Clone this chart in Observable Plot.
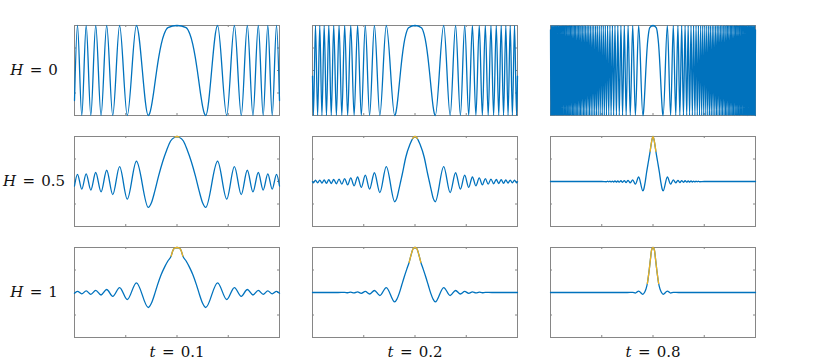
<!DOCTYPE html>
<html>
<head>
<meta charset="utf-8">
<script src="https://cdn.jsdelivr.net/npm/d3@7"></script>
<script src="https://cdn.jsdelivr.net/npm/@observablehq/plot@0.6"></script>
<style>
  html, body { margin: 0; padding: 0; background: #fff; }
  .mathlabel, .mathlabel tspan { font-family: "DejaVu Serif", serif !important; }
</style>
</head>
<body>
<div id="chart"></div>
<script>
// Facet categories
const tValues = ["0.1", "0.2", "0.8"];
const hValues = ["0", "0.5", "1"];
// Inner tick positions (no tick labels in the figure)
const xTicks = [-0.5, 0, 0.5];
const yTicks = [-0.5, 0, 0.5];

// ---- H = 0 (pure chirp; extrema) ----
const H0_t01 = [[-1,-0.667],[-0.971,1],[-0.929,-1],[-0.886,1],[-0.841,-1],[-0.793,1],[-0.741,-1],[-0.686,1],[-0.627,-1],[-0.560,1],[-0.485,-1],[-0.396,1],[-0.280,-1],[-0.2659,-0.951],[-0.2507,-0.809],[-0.2345,-0.588],[-0.2171,-0.309],[-0.1982,0],[-0.1772,0.309],[-0.1535,0.588],[-0.1253,0.809],[-0.0886,0.951],[0,1],[0.0886,0.951],[0.1253,0.809],[0.1535,0.588],[0.1772,0.309],[0.1982,0],[0.2171,-0.309],[0.2345,-0.588],[0.2507,-0.809],[0.2659,-0.951],[0.280,-1],[0.396,1],[0.485,-1],[0.560,1],[0.627,-1],[0.686,1],[0.741,-1],[0.793,1],[0.841,-1],[0.886,1],[0.929,-1],[0.971,1],[1,-0.667]];

const H0_t02 = [[-1,-0.125],[-0.991,-1],[-0.971,1],[-0.950,-1],[-0.929,1],[-0.908,-1],[-0.886,1],[-0.864,-1],[-0.841,1],[-0.817,-1],[-0.793,1],[-0.767,-1],[-0.741,1],[-0.714,-1],[-0.686,1],[-0.657,-1],[-0.627,1],[-0.594,-1],[-0.560,1],[-0.524,-1],[-0.485,1],[-0.443,-1],[-0.396,1],[-0.343,-1],[-0.280,1],[-0.198,-1],[-0.1880,-0.951],[-0.1772,-0.809],[-0.1658,-0.588],[-0.1535,-0.309],[-0.1401,0],[-0.1253,0.309],[-0.1085,0.588],[-0.0886,0.809],[-0.0627,0.951],[0,1],[0.0627,0.951],[0.0886,0.809],[0.1085,0.588],[0.1253,0.309],[0.1401,0],[0.1535,-0.309],[0.1658,-0.588],[0.1772,-0.809],[0.1880,-0.951],[0.198,-1],[0.280,1],[0.343,-1],[0.396,1],[0.443,-1],[0.485,1],[0.524,-1],[0.560,1],[0.594,-1],[0.627,1],[0.657,-1],[0.686,1],[0.714,-1],[0.741,1],[0.767,-1],[0.793,1],[0.817,-1],[0.841,1],[0.864,-1],[0.886,1],[0.908,-1],[0.929,1],[0.950,-1],[0.971,1],[0.991,-1],[1,-0.125]];

const H0_t08 = [[-1,0.904],[-0.996,-1],[-0.991,1],[-0.986,-1],[-0.981,1],[-0.976,-1],[-0.971,1],[-0.966,-1],[-0.961,1],[-0.956,-1],[-0.950,1],[-0.945,-1],[-0.940,1],[-0.935,-1],[-0.929,1],[-0.924,-1],[-0.919,1],[-0.913,-1],[-0.908,1],[-0.903,-1],[-0.897,1],[-0.892,-1],[-0.886,1],[-0.881,-1],[-0.875,1],[-0.869,-1],[-0.864,1],[-0.858,-1],[-0.852,1],[-0.847,-1],[-0.841,1],[-0.835,-1],[-0.829,1],[-0.823,-1],[-0.817,1],[-0.811,-1],[-0.805,1],[-0.799,-1],[-0.793,1],[-0.786,-1],[-0.780,1],[-0.774,-1],[-0.767,1],[-0.761,-1],[-0.755,1],[-0.748,-1],[-0.741,1],[-0.735,-1],[-0.728,1],[-0.721,-1],[-0.714,1],[-0.708,-1],[-0.701,1],[-0.694,-1],[-0.686,1],[-0.679,-1],[-0.672,1],[-0.665,-1],[-0.657,1],[-0.650,-1],[-0.642,1],[-0.634,-1],[-0.627,1],[-0.619,-1],[-0.611,1],[-0.603,-1],[-0.594,1],[-0.586,-1],[-0.578,1],[-0.569,-1],[-0.560,1],[-0.552,-1],[-0.543,1],[-0.534,-1],[-0.524,1],[-0.515,-1],[-0.505,1],[-0.495,-1],[-0.485,1],[-0.475,-1],[-0.465,1],[-0.454,-1],[-0.443,1],[-0.432,-1],[-0.420,1],[-0.409,-1],[-0.396,1],[-0.384,-1],[-0.371,1],[-0.357,-1],[-0.343,1],[-0.329,-1],[-0.313,1],[-0.297,-1],[-0.280,1],[-0.262,-1],[-0.243,1],[-0.222,-1],[-0.198,1],[-0.172,-1],[-0.140,1],[-0.099,-1],[-0.0940,-0.951],[-0.0886,-0.809],[-0.0829,-0.588],[-0.0767,-0.309],[-0.0701,0],[-0.0627,0.309],[-0.0543,0.588],[-0.0443,0.809],[-0.0313,0.951],[0,1],[0.0313,0.951],[0.0443,0.809],[0.0543,0.588],[0.0627,0.309],[0.0701,0],[0.0767,-0.309],[0.0829,-0.588],[0.0886,-0.809],[0.0940,-0.951],[0.099,-1],[0.140,1],[0.172,-1],[0.198,1],[0.222,-1],[0.243,1],[0.262,-1],[0.280,1],[0.297,-1],[0.313,1],[0.329,-1],[0.343,1],[0.357,-1],[0.371,1],[0.384,-1],[0.396,1],[0.409,-1],[0.420,1],[0.432,-1],[0.443,1],[0.454,-1],[0.465,1],[0.475,-1],[0.485,1],[0.495,-1],[0.505,1],[0.515,-1],[0.524,1],[0.534,-1],[0.543,1],[0.552,-1],[0.560,1],[0.569,-1],[0.578,1],[0.586,-1],[0.594,1],[0.603,-1],[0.611,1],[0.619,-1],[0.627,1],[0.634,-1],[0.642,1],[0.650,-1],[0.657,1],[0.665,-1],[0.672,1],[0.679,-1],[0.686,1],[0.694,-1],[0.701,1],[0.708,-1],[0.714,1],[0.721,-1],[0.728,1],[0.735,-1],[0.741,1],[0.748,-1],[0.755,1],[0.761,-1],[0.767,1],[0.774,-1],[0.780,1],[0.786,-1],[0.793,1],[0.799,-1],[0.805,1],[0.811,-1],[0.817,1],[0.823,-1],[0.829,1],[0.835,-1],[0.841,1],[0.847,-1],[0.852,1],[0.858,-1],[0.864,1],[0.869,-1],[0.875,1],[0.881,-1],[0.886,1],[0.892,-1],[0.897,1],[0.903,-1],[0.908,1],[0.913,-1],[0.919,1],[0.924,-1],[0.929,1],[0.935,-1],[0.940,1],[0.945,-1],[0.950,1],[0.956,-1],[0.961,1],[0.966,-1],[0.971,1],[0.976,-1],[0.981,1],[0.986,-1],[0.991,1],[0.996,-1],[1,0.904]];

// ---- H = 0.5 ----
const H05_t01 = [[-1,-0.10],[-0.971,0.16],[-0.929,-0.17],[-0.886,0.17],[-0.841,-0.19],[-0.793,0.20],[-0.741,-0.23],[-0.686,0.25],[-0.627,-0.29],[-0.560,0.33],[-0.485,-0.39],[-0.396,0.45],[-0.280,-0.575],[-0.2507,-0.48],[-0.2171,-0.22],[-0.18,0.12],[-0.14,0.44],[-0.10,0.70],[-0.0625,0.90],[-0.02,0.985],[0,1],[0.02,0.985],[0.0625,0.90],[0.10,0.70],[0.14,0.44],[0.18,0.12],[0.2171,-0.22],[0.2507,-0.48],[0.280,-0.575],[0.396,0.45],[0.485,-0.39],[0.560,0.33],[0.627,-0.29],[0.686,0.25],[0.741,-0.23],[0.793,0.20],[0.841,-0.19],[0.886,0.17],[0.929,-0.17],[0.971,0.16],[1,-0.10]];
const H05_t01_peak = [[-0.02,0.985],[-0.01,0.996],[0,1],[0.01,0.996],[0.02,0.985]];

const H05_t02 = [[-1,-0.004],[-0.991,-0.03],[-0.971,0.03],[-0.950,-0.03],[-0.929,0.032],[-0.908,-0.035],[-0.886,0.035],[-0.864,-0.04],[-0.841,0.04],[-0.817,-0.045],[-0.793,0.045],[-0.767,-0.05],[-0.741,0.055],[-0.714,-0.06],[-0.686,0.065],[-0.657,-0.075],[-0.627,0.08],[-0.594,-0.095],[-0.560,0.10],[-0.524,-0.13],[-0.485,0.14],[-0.443,-0.17],[-0.396,0.195],[-0.343,-0.245],[-0.280,0.33],[-0.198,-0.45],[-0.1772,-0.37],[-0.1535,-0.14],[-0.14,0],[-0.1253,0.15],[-0.0886,0.55],[-0.05,0.82],[-0.023,0.955],[0,1],[0.023,0.955],[0.05,0.82],[0.0886,0.55],[0.1253,0.15],[0.14,0],[0.1535,-0.14],[0.1772,-0.37],[0.198,-0.45],[0.280,0.33],[0.343,-0.245],[0.396,0.195],[0.443,-0.17],[0.485,0.14],[0.524,-0.13],[0.560,0.10],[0.594,-0.095],[0.627,0.08],[0.657,-0.075],[0.686,0.065],[0.714,-0.06],[0.741,0.055],[0.767,-0.05],[0.793,0.045],[0.817,-0.045],[0.841,0.04],[0.864,-0.04],[0.886,0.035],[0.908,-0.035],[0.929,0.032],[0.950,-0.03],[0.971,0.03],[0.991,-0.03],[1,-0.004]];
const H05_t02_peak = [[-0.023,0.955],[-0.012,0.988],[0,1],[0.012,0.988],[0.023,0.955]];

const H05_t08 = [[-1,0],[-0.5,0],[-0.454,-0.005],[-0.443,0.006],[-0.432,-0.007],[-0.420,0.008],[-0.409,-0.009],[-0.396,0.01],[-0.384,-0.011],[-0.371,0.012],[-0.357,-0.013],[-0.343,0.014],[-0.329,-0.015],[-0.313,0.017],[-0.297,-0.018],[-0.280,0.02],[-0.262,-0.022],[-0.243,0.025],[-0.222,-0.03],[-0.198,0.035],[-0.172,-0.06],[-0.140,0.10],[-0.099,-0.21],[-0.0886,-0.16],[-0.0767,-0.02],[-0.0627,0.20],[-0.0443,0.45],[-0.028,0.67],[-0.014,0.88],[0,1],[0.014,0.88],[0.028,0.67],[0.0443,0.45],[0.0627,0.20],[0.0767,-0.02],[0.0886,-0.16],[0.099,-0.21],[0.140,0.10],[0.172,-0.06],[0.198,0.035],[0.222,-0.03],[0.243,0.025],[0.262,-0.022],[0.280,0.02],[0.297,-0.018],[0.313,0.017],[0.329,-0.015],[0.343,0.014],[0.357,-0.013],[0.371,0.012],[0.384,-0.011],[0.396,0.01],[0.409,-0.009],[0.420,0.008],[0.432,-0.007],[0.443,0.006],[0.454,-0.005],[0.5,0],[1,0]];
const H05_t08_peak = [[-0.028,0.67],[-0.014,0.88],[0,1],[0.014,0.88],[0.028,0.67]];

// ---- H = 1 ----
const H1_t01 = [[-1,-0.018],[-0.971,0.027],[-0.929,-0.031],[-0.886,0.035],[-0.841,-0.04],[-0.793,0.046],[-0.741,-0.055],[-0.686,0.067],[-0.627,-0.085],[-0.560,0.11],[-0.485,-0.155],[-0.396,0.215],[-0.280,-0.333],[-0.25,-0.24],[-0.22,-0.05],[-0.19,0.17],[-0.154,0.40],[-0.12,0.57],[-0.089,0.70],[-0.057,0.81],[-0.041,0.93],[-0.024,0.985],[0,1],[0.024,0.985],[0.041,0.93],[0.057,0.81],[0.089,0.70],[0.12,0.57],[0.154,0.40],[0.19,0.17],[0.22,-0.05],[0.25,-0.24],[0.280,-0.333],[0.396,0.215],[0.485,-0.155],[0.560,0.11],[0.627,-0.085],[0.686,0.067],[0.741,-0.055],[0.793,0.046],[0.841,-0.04],[0.886,0.035],[0.929,-0.031],[0.971,0.027],[1,-0.018]];
const H1_t01_peak = [[-0.057,0.81],[-0.041,0.93],[-0.024,0.985],[0,1],[0.024,0.985],[0.041,0.93],[0.057,0.81]];

const H1_t02 = [[-1,0],[-0.75,0],[-0.686,0.003],[-0.657,-0.005],[-0.627,0.007],[-0.594,-0.01],[-0.560,0.013],[-0.524,-0.018],[-0.485,0.024],[-0.443,-0.033],[-0.396,0.045],[-0.343,-0.067],[-0.280,0.11],[-0.198,-0.21],[-0.177,-0.15],[-0.154,-0.02],[-0.13,0.16],[-0.106,0.34],[-0.08,0.52],[-0.057,0.67],[-0.034,0.87],[-0.018,0.975],[0,1],[0.018,0.975],[0.034,0.87],[0.057,0.67],[0.08,0.52],[0.106,0.34],[0.13,0.16],[0.154,-0.02],[0.177,-0.15],[0.198,-0.21],[0.280,0.11],[0.343,-0.067],[0.396,0.045],[0.443,-0.033],[0.485,0.024],[0.524,-0.018],[0.560,0.013],[0.594,-0.01],[0.627,0.007],[0.657,-0.005],[0.686,0.003],[0.75,0],[1,0]];
const H1_t02_peak = [[-0.057,0.67],[-0.034,0.87],[-0.018,0.975],[0,1],[0.018,0.975],[0.034,0.87],[0.057,0.67]];

const H1_t08 = [[-1,0],[-0.25,0],[-0.198,0.004],[-0.172,-0.012],[-0.140,0.03],[-0.099,-0.04],[-0.083,0],[-0.068,0.08],[-0.055,0.2],[-0.037,0.5],[-0.024,0.76],[-0.015,0.93],[0,1],[0.015,0.93],[0.024,0.76],[0.037,0.5],[0.055,0.2],[0.068,0.08],[0.083,0],[0.099,-0.04],[0.140,0.03],[0.172,-0.012],[0.198,0.004],[0.25,0],[1,0]];
const H1_t08_peak = [[-0.055,0.2],[-0.037,0.5],[-0.024,0.76],[-0.015,0.93],[0,1],[0.015,0.93],[0.024,0.76],[0.037,0.5],[0.055,0.2]];

// ---- assemble facet tables ----
const panels = [
  {H: "0",   t: "0.1", curve: H0_t01,  peak: []},
  {H: "0",   t: "0.2", curve: H0_t02,  peak: []},
  {H: "0",   t: "0.8", curve: H0_t08,  peak: []},
  {H: "0.5", t: "0.1", curve: H05_t01, peak: H05_t01_peak},
  {H: "0.5", t: "0.2", curve: H05_t02, peak: H05_t02_peak},
  {H: "0.5", t: "0.8", curve: H05_t08, peak: H05_t08_peak},
  {H: "1",   t: "0.1", curve: H1_t01,  peak: H1_t01_peak},
  {H: "1",   t: "0.2", curve: H1_t02,  peak: H1_t02_peak},
  {H: "1",   t: "0.8", curve: H1_t08,  peak: H1_t08_peak}
];
const toRows = (pts, H, t) => pts.map(([x, y]) => ({x, y, H, t}));
const blueRows = panels.flatMap(p => toRows(p.curve, p.H, p.t));
const peakRows = panels.flatMap(p => toRows(p.peak, p.H, p.t));
const cells = panels.map(p => ({H: p.H, t: p.t}));
const xTickRows = cells.flatMap(c => xTicks.map(v => ({v, ...c})));
const yTickRows = cells.flatMap(c => yTicks.map(v => ({v, ...c})));
const rowLabels = hValues.map(H => ({H, t: tValues[0], label: `H = ${H}`}));
const colLabels = tValues.map(t => ({t, H: hValues[hValues.length - 1], label: `t = ${t}`}));

const BLUE = "#0072BD", GOLD = "#EDB120", AXIS = "#868686";
const PW = 205, PH = 90, TL = 2;
const FONT = "'DejaVu Serif', serif";

const chart = Plot.plot({
  width: 831,
  height: 363,
  marginLeft: 73.5,
  marginRight: 75.5,
  marginTop: 24,
  marginBottom: 26,
  style: {background: "#fff", overflow: "visible"},
  x: {domain: [-1, 1], axis: null},
  y: {domain: [-1, 1], axis: null},
  fx: {domain: tValues, paddingInner: 0.1405, paddingOuter: 0, axis: null},
  fy: {domain: hValues, paddingInner: 0.1928, paddingOuter: 0, axis: null},
  marks: [
    Plot.frame({stroke: AXIS, strokeWidth: 1}),
    Plot.tickX(xTickRows, {x: "v", fx: "t", fy: "H", insetBottom: PH - TL, stroke: AXIS}),
    Plot.tickX(xTickRows, {x: "v", fx: "t", fy: "H", insetTop: PH - TL, stroke: AXIS}),
    Plot.tickY(yTickRows, {y: "v", fx: "t", fy: "H", insetRight: PW - TL, stroke: AXIS}),
    Plot.tickY(yTickRows, {y: "v", fx: "t", fy: "H", insetLeft: PW - TL, stroke: AXIS}),
    Plot.line(blueRows, {x: "x", y: "y", fx: "t", fy: "H", curve: "monotone-x", stroke: BLUE, strokeWidth: 1.3}),
    Plot.line(peakRows, {x: "x", y: "y", fx: "t", fy: "H", curve: "monotone-x", stroke: GOLD, strokeWidth: 1.3}),
    Plot.text(rowLabels, {fx: "t", fy: "H", text: "label", frameAnchor: "left", dx: -40.5, textAnchor: "middle",
      fontSize: 15, fontFamily: FONT, fill: "#111"}),
    Plot.text(colLabels, {fx: "t", fy: "H", text: "label", frameAnchor: "bottom", dy: 19.5, textAnchor: "middle",
      fontSize: 15, fontFamily: FONT, fill: "#111"})
  ]
});

// Typeset the labels like math: italic symbol, spaced equals sign
const NS = "http://www.w3.org/2000/svg";
chart.querySelectorAll("text").forEach(el => {
  const s = el.textContent;
  if (!/^[Ht] = /.test(s)) return;
  const [sym, val] = s.split("=").map(p => p.trim());
  el.textContent = "";
  el.classList.add("mathlabel");
  el.style.fontFamily = FONT;
  el.style.fontSize = "15px";
  el.style.fontWeight = "300";
  const a = document.createElementNS(NS, "tspan");
  a.style.fontStyle = "italic";
  a.textContent = sym;
  const b = document.createElementNS(NS, "tspan");
  b.setAttribute("dx", "6.5");
  b.textContent = "=";
  const c = document.createElementNS(NS, "tspan");
  c.setAttribute("dx", "6");
  c.textContent = val;
  el.append(a, b, c);
});

document.getElementById("chart").append(chart);
</script>
</body>
</html>
